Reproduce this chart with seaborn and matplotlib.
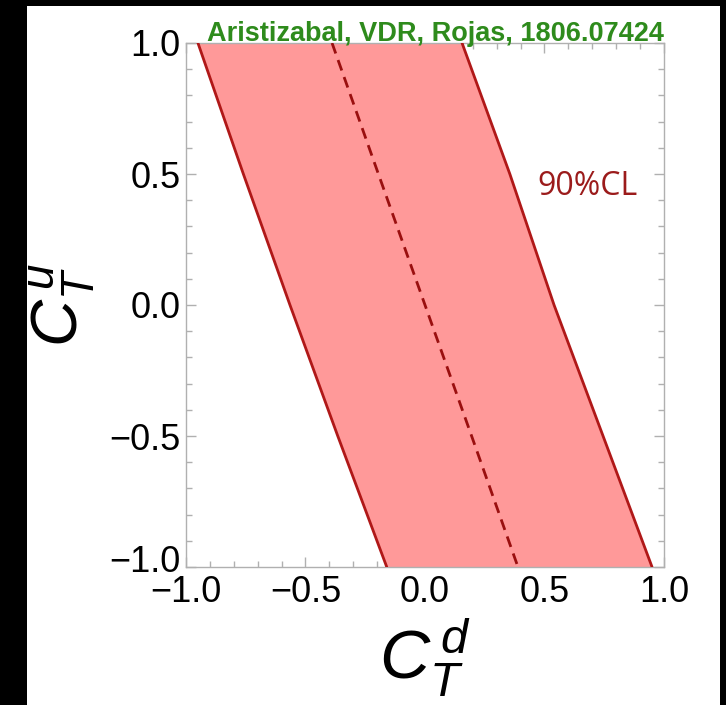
import matplotlib
matplotlib.use("Agg")
import matplotlib.pyplot as plt
import matplotlib.patches as mpatches
import matplotlib.transforms as mtransforms
from matplotlib.ticker import MultipleLocator
import seaborn as sns
import pandas as pd

# ---- data ----
cu_vals = [1.0, 0.5, 0.0, -0.5, -1.0]            # C_T^u
left_cd = [-0.95, -0.76, -0.565, -0.365, -0.16]   # left 90%CL boundary in C_T^d
right_cd = [0.155, 0.355, 0.54, 0.745, 0.95]      # right 90%CL boundary
center_cd = [-0.389, -0.195, 0.0, 0.195, 0.389]   # central (dashed) line
x_ticks = [-1.0, -0.5, 0.0, 0.5, 1.0]
y_ticks = [-1.0, -0.5, 0.0, 0.5, 1.0]
tick_labels = ["\u22121.0", "\u22120.5", "0.0", "0.5", "1.0"]

sns.set_style("ticks")
plt.rcParams["font.family"] = ["Liberation Sans", "DejaVu Sans"]
plt.rcParams["mathtext.fontset"] = "custom"
plt.rcParams["mathtext.it"] = "Liberation Sans:italic"
plt.rcParams["mathtext.rm"] = "Liberation Sans"

W, H = 726, 705
fig = plt.figure(figsize=(W / 100, H / 100), dpi=100, facecolor="black")
fig.add_artist(mpatches.Rectangle((27 / W, 0), (720 - 27) / W, (705 - 6) / H,
                                  transform=fig.transFigure, facecolor="white",
                                  edgecolor="none", zorder=-10))
ax = fig.add_axes([186 / W, (H - 567) / H, 478 / W, 524 / H])
ax.set_facecolor("white")

df = pd.DataFrame({"cu": cu_vals, "left": left_cd, "right": right_cd, "center": center_cd})

ax.fill_betweenx(df["cu"], df["left"], df["right"], color="#ff9999", lw=0, zorder=1)
line_col = "#b01818"
sns.lineplot(data=df, x="left", y="cu", sort=False, estimator=None, color=line_col, lw=2, ax=ax, zorder=3)
sns.lineplot(data=df, x="right", y="cu", sort=False, estimator=None, color=line_col, lw=2, ax=ax, zorder=3)
sns.lineplot(data=df, x="center", y="cu", sort=False, estimator=None, color="#9a0f0f", lw=2,
             ax=ax, zorder=3, linestyle=(0, (4, 2.5)))

ax.set_xlim(-1, 1)
ax.set_ylim(-1, 1)
ax.set_xticks(x_ticks)
ax.set_yticks(y_ticks)
ax.set_xticklabels(tick_labels)
ax.set_yticklabels(tick_labels)
ax.xaxis.set_minor_locator(MultipleLocator(0.1))
ax.yaxis.set_minor_locator(MultipleLocator(0.1))
ax.tick_params(which="both", direction="in", top=True, right=True, color="#b0b0b0", width=1)
ax.tick_params(which="major", length=7, labelsize=26, labelcolor="black")
ax.tick_params(axis="y", which="major", pad=4)
ax.tick_params(axis="x", which="major", pad=6)
ax.tick_params(which="minor", length=4)
for s in ax.spines.values():
    s.set_color("#b0b0b0")
    s.set_linewidth(1)

# bottom y tick label sits a little higher in the reference
lab = ax.get_yticklabels()[0]
lab.set_transform(lab.get_transform() + mtransforms.ScaledTranslation(0, 0.09, fig.dpi_scale_trans))

ax.set_xlabel(r"$C_T^{\,d}$", fontsize=50, labelpad=5, color="black")
ax.set_ylabel(r"$C_T^{\,u}$", fontsize=47, labelpad=8, color="black")

ax.text(0.682, 0.454, "90%CL", color="#9b1b1b", fontsize=23, ha="center", va="center",
        family=["Open Sans", "DejaVu Sans"], zorder=4)
ax.text(0.521, 1.003, "Aristizabal, VDR, Rojas, 1806.07424", transform=ax.transAxes,
        color="#2e8b1c", fontsize=19.5, fontweight="bold", ha="center", va="baseline", zorder=5)

fig.savefig("out.png", dpi=100, facecolor=fig.get_facecolor())
